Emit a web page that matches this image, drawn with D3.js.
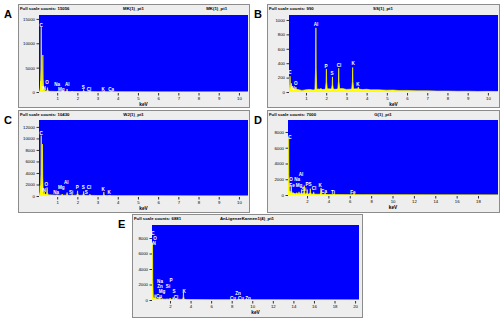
<!DOCTYPE html>
<html><head><meta charset="utf-8">
<script src="https://cdn.jsdelivr.net/npm/d3@7"></script>
<style>body{margin:0;background:#fff}svg{display:block}text{font-family:Arial,"Liberation Sans",sans-serif}</style>
</head><body><svg id="c" width="500" height="323"></svg>
<script>
// ---------- DATA ----------
const panelIds = ["A","B","C","D","E"];
const fullScale = ["Full scale counts: 15056","Full scale counts: 990","Full scale counts: 10430","Full scale counts: 7000","Full scale counts: 6881"];
const titles = ["MK(1)_pt1","SS(1)_pt1","WJ(1)_pt1","G(1)_pt1","AnLigenzeKannen1(4)_pt1"];
const rightTitles = ["MK(1)_pt1","","","",""];
const xDomains = [[0.1,10.45],[0.16,10.5],[0.1,10.45],[0.22,19.87],[0.25,20.38]];
const yDomains = [[0,15800],[0,1069],[0,13200],[0,9520],[0,9680]];
const xTicks10 = [1,2,3,4,5,6,7,8,9,10];
const xTicksD = [2,4,6,8,10,12,14,16,18];
const xTicksE = [2,4,6,8,10,12,14,16,18,20];
const yTicksA = [0,5000,10000,15000];
const yTicksB = [0,200,400,600,800,1000];
const yTicksC = [0,2000,4000,6000,8000,10000,12000];
const yTicksD = [0,2000,4000,6000,8000];
const yTicksE = [0,2000,4000,6000,8000];

// peaks: energy (keV) and counts
const peakE_A = [0.18,0.21,0.29,0.37,0.52,1.04,1.25,1.49,1.74,2.31,2.62,3.31,3.69];
const peakC_A = [2200,13300,7600,500,900,200,300,600,150,500,200,150,150];
const peakE_B = [0.21,0.28,0.36,0.5,1.49,1.74,2.01,2.31,2.62,3.31,3.59];
const peakC_B = [220,120,40,70,890,50,320,210,330,340,70];
const peakE_C = [0.16,0.21,0.27,0.36,0.5,1.0,1.25,1.49,1.74,2.01,2.31,2.62,3.31,3.59];
const peakC_C = [1800,10500,9000,700,1500,150,300,600,250,900,800,300,700,150];
const peakE_D = [0.28,0.39,0.52,0.7,1.04,1.25,1.49,1.74,2.01,2.31,2.62,3.31,3.69,4.51,6.4];
const peakC_D = [7300,500,1200,300,300,400,700,1200,700,800,400,900,250,100,80];
const peakE_E = [0.3,0.39,0.55,0.93,1.01,1.25,1.74,2.01,2.31,2.62,3.31,8.05,8.63];
const peakC_E = [7400,300,700,200,400,150,100,250,350,150,1000,40,50];

// background continuum [keV, counts]
const bgA = [[0.1,0],[0.3,250],[0.6,150],[1,100],[2,90],[3,70],[4,40],[6,25],[8,15],[10.45,10]];
const bgB = [[0.16,0],[0.2,50],[0.6,35],[0.8,22],[1.0,30],[1.2,36],[1.35,28],[1.6,42],[1.8,34],[2.1,44],[2.45,38],[2.8,50],[3.0,36],[3.5,44],[3.8,34],[4.0,38],[4.2,30],[4.6,30],[5.0,25],[5.3,27],[5.6,21],[6.0,22],[6.5,17],[7.0,17],[7.5,13],[8.0,13],[8.5,10],[9.0,11],[9.5,8],[10.0,9],[10.5,7]];
const bgC = [[0.1,0],[0.3,300],[0.6,200],[1,150],[2,120],[3,90],[4,50],[6,30],[8,20],[10.45,12]];
const bgD = [[0.22,0],[0.4,250],[1,150],[2,120],[3,100],[4,60],[6,40],[10,20],[19.87,8]];
const bgE = [[0.25,0],[0.4,200],[1,120],[2,100],[3,90],[4,50],[6,30],[10,20],[20.38,8]];

// element labels: name, energy, count position
const labA = [["C",0.21,13750],["N",0.36,820],["O",0.5,2050],["Na",1.0,1640],["Mg",1.2,615],["Al",1.5,1640],["S",2.29,1030],["Cl",2.58,615],["K",3.28,615],["Ca",3.67,615]];
const labB = [["C",0.21,278],["N",0.36,56],["O",0.5,125],["Al",1.5,945],["P",1.99,361],["S",2.29,264],["Cl",2.63,375],["K",3.33,403],["K",3.57,111]];
const labC = [["C",0.21,10960],["N",0.36,1040],["O",0.46,2090],["Na",0.95,700],["Mg",1.2,1565],["Al",1.45,2430],["Si",1.69,700],["P",1.99,1565],["S",2.29,1565],["S",2.44,700],["Cl",2.58,1565],["K",3.28,1220],["K",3.57,700]];
const labD = [["C",0.41,7370],["O",0.5,2030],["Na",1.07,2030],["Fe",0.6,1270],["Mg",1.25,1270],["Al",1.44,2670],["Si",1.72,760],["P",2.0,1400],["S",2.28,1400],["Cl",2.66,890],["K",3.22,1270],["Ca",3.59,510],["Ti",4.43,380],["Fe",6.3,380]];
const labE = [["C",0.35,8640],["O",0.55,8000],["N",0.45,7350],["Na",1.03,2450],["P",2.1,2580],["Zn",1.03,1800],["Si",1.81,1800],["Mg",1.23,1160],["S",2.39,1160],["K",3.37,1160],["Cu",0.93,520],["Cl",2.59,390],["Zn",8.62,900],["Cu",8.13,260],["Cu",8.91,260],["Zn",9.59,260]];

// ---------- LAYOUT / DRAW ----------
const layout = [
  {f:[18,4,231,103], p:[39,15,248,92], L:[4,18]},
  {f:[267,4,232,103], p:[289,15,498,92], L:[254,18]},
  {f:[18,110,231,102], p:[39,120,248,196], L:[4,124]},
  {f:[267,110,232,102], p:[288,120,498,195], L:[254,124]},
  {f:[132,214,230,103], p:[152,225,359,300], L:[118,228]}
];
const xTicksAll = [xTicks10,xTicks10,xTicks10,xTicksD,xTicksE];
const yTicksAll = [yTicksA,yTicksB,yTicksC,yTicksD,yTicksE];
const peaksE = [peakE_A,peakE_B,peakE_C,peakE_D,peakE_E];
const peaksC = [peakC_A,peakC_B,peakC_C,peakC_D,peakC_E];
const bgs = [bgA,bgB,bgC,bgD,bgE];
const labs = [labA,labB,labC,labD,labE];
const halfW = [0.045,0.045,0.045,0.08,0.08];

const svg = d3.select("#c");
const BLUE = "#0000ff", YEL = "#ffff00";

panelIds.forEach((id,i)=>{
  const L = layout[i];
  const g = svg.append("g");
  const [fx,fy,fw,fh] = L.f;
  const [px0,py0,px1,py1] = L.p;
  g.append("rect").attr("x",fx+0.5).attr("y",fy+0.5).attr("width",fw).attr("height",fh)
    .attr("fill","#eeeeee").attr("stroke","#8c8c8c").attr("stroke-width",1);
  g.append("text").attr("x",L.L[0]).attr("y",L.L[1]).text(id)
    .attr("font-size",11).attr("font-weight","bold").attr("fill","#000");
  g.append("text").attr("x",fx+2).attr("y",fy+6).text(fullScale[i])
    .attr("font-size",4.3).attr("font-weight","bold").attr("fill","#000");
  g.append("text").attr("x",fx+fw*0.5).attr("y",fy+6).text(titles[i]).attr("text-anchor","middle")
    .attr("font-size",4.3).attr("font-weight","bold").attr("fill","#000");
  if (rightTitles[i]) g.append("text").attr("x",fx+fw*0.86).attr("y",fy+6).text(rightTitles[i]).attr("text-anchor","middle")
    .attr("font-size",4.3).attr("font-weight","bold").attr("fill","#000");

  const x = d3.scaleLinear().domain(xDomains[i]).range([px0,px1]);
  const y = d3.scaleLinear().domain(yDomains[i]).range([py1,py0]);
  g.append("rect").attr("x",px0).attr("y",py0).attr("width",px1-px0).attr("height",py1-py0).attr("fill",BLUE);

  const clipId = "clip"+id;
  g.append("clipPath").attr("id",clipId).append("rect").attr("x",px0).attr("y",py0).attr("width",px1-px0).attr("height",py1-py0);
  const sg = g.append("g").attr("clip-path",`url(#${clipId})`);

  const area = d3.area().x(d=>x(d[0])).y0(y(0)).y1(d=>y(d[1]));
  sg.append("path").datum(bgs[i]).attr("d",area).attr("fill",YEL).attr("stroke",YEL).attr("stroke-width",0.6);
  const hw = halfW[i];
  const bgInterp = e => { const b=bgs[i]; for(let k=1;k<b.length;k++){ if(e<=b[k][0]){const t=(e-b[k-1][0])/(b[k][0]-b[k-1][0]); return b[k-1][1]+t*(b[k][1]-b[k-1][1]);} } return 0; };
  peaksE[i].forEach((e,k)=>{
    const c = peaksC[i][k], b = bgInterp(e);
    const pts = [[e-hw,b],[e-hw*0.3,b+(c-b)*0.35],[e,c],[e+hw*0.3,b+(c-b)*0.35],[e+hw,b]];
    sg.append("path").datum(pts).attr("d",area).attr("fill",YEL).attr("stroke",YEL).attr("stroke-width",0.7);
  });

  // element labels
  labs[i].forEach(l=>{
    g.append("text").attr("x",x(l[1])).attr("y",y(l[2])).attr("dy","0.35em").attr("text-anchor","middle")
      .text(l[0]).attr("font-size",4.6).attr("font-weight","bold").attr("fill","#fff");
  });

  // axes
  const ax = g.append("g").attr("transform",`translate(0,${py1})`)
    .call(d3.axisBottom(x).tickValues(xTicksAll[i]).tickSize(2.5).tickPadding(2).tickFormat(d3.format("d")));
  ax.select(".domain").remove();
  ax.selectAll("text").attr("font-size",4.3).attr("font-family","Arial").attr("fill","#000");
  ax.selectAll("line").attr("stroke","#000").attr("stroke-width",0.8).attr("transform","translate(0,1)");
  const ay = g.append("g").attr("transform",`translate(${px0},0)`)
    .call(d3.axisLeft(y).tickValues(yTicksAll[i]).tickSize(2.5).tickPadding(1.5).tickFormat(d3.format("d")));
  ay.select(".domain").remove();
  ay.selectAll("text").attr("font-size",4.3).attr("font-family","Arial").attr("fill","#000");
  ay.selectAll("line").attr("stroke","#000").attr("stroke-width",0.8);
  g.append("text").attr("x",(px0+px1)/2).attr("y",py1+13.5).attr("text-anchor","middle").text("keV")
    .attr("font-size",4.8).attr("font-weight","bold").attr("fill","#000");
});
</script></body></html>
